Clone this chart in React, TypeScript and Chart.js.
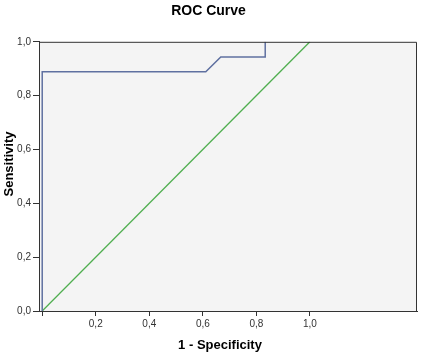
import React, { useEffect, useRef } from "react";
import { Chart, registerables } from "chart.js";

Chart.register(...registerables);

const fpr = [0, 0, 0.611, 0.667, 0.833, 0.833];
const tpr = [0, 0.889, 0.889, 0.944, 0.944, 1.0];
const refX = [0, 1];
const refY = [0, 1];
const xTickValues = [0, 0.2, 0.4, 0.6, 0.8, 1.0];
const yTickValues = [0, 0.2, 0.4, 0.6, 0.8, 1.0];

const FONT = "'Liberation Sans', Arial, sans-serif";

const framePlugin = {
  id: "frame",
  beforeDraw(chart: any) {
    const { ctx, chartArea: a } = chart;
    ctx.save();
    ctx.fillStyle = "#f4f4f4";
    ctx.fillRect(a.left, a.top, a.right - a.left, a.bottom - a.top);
    ctx.restore();
  },
  afterDatasetsDraw(chart: any) {
    const { ctx, chartArea: a } = chart;
    ctx.save();
    ctx.strokeStyle = "#333333";
    ctx.lineWidth = 1;
    ctx.beginPath();
    ctx.moveTo(a.left, a.top + 0.5);
    ctx.lineTo(a.right - 0.5, a.top + 0.5);
    ctx.lineTo(a.right - 0.5, a.bottom);
    ctx.stroke();
    ctx.restore();
  },
  afterDraw(chart: any) {
    const { ctx } = chart;
    ctx.save();
    ctx.fillStyle = "#000";
    ctx.font = `bold 13px ${FONT}`;
    ctx.textAlign = "center";
    ctx.textBaseline = "middle";
    ctx.fillText("1 - Specificity", 220, 345);
    ctx.translate(9, 164);
    ctx.rotate(-Math.PI / 2);
    ctx.fillText("Sensitivity", 0, 0);
    ctx.restore();
  },
};

const fmt = (v: number) => v.toFixed(1).replace(".", ",");

export default function App() {
  const ref = useRef<HTMLCanvasElement | null>(null);
  useEffect(() => {
    document.body.style.margin = "0";
    const canvas = ref.current!;
    const chart = new Chart(canvas, {
      type: "scatter",
      data: {
        datasets: [
          {
            data: fpr.map((x, i) => ({ x, y: tpr[i] })),
            showLine: true,
            borderColor: "#5f70a0",
            borderWidth: 1.5,
            pointRadius: 0,
            tension: 0,
          },
          {
            data: refX.map((x, i) => ({ x, y: refY[i] })),
            showLine: true,
            borderColor: "#4fae4f",
            borderWidth: 1.3,
            pointRadius: 0,
            tension: 0,
          },
        ],
      },
      options: {
        responsive: false,
        animation: false,
        layout: { padding: { right: 6, top: 0, left: 0, bottom: 0 } },
        plugins: {
          legend: { display: false },
          tooltip: { enabled: false },
          title: {
            display: true,
            text: "ROC Curve",
            color: "#000",
            font: { family: FONT, size: 14, weight: "bold" },
            padding: { top: 3, bottom: 22 },
          },
        },
        scales: {
          x: {
            type: "linear",
            min: -0.012,
            max: 1.4,
            afterBuildTicks: (s: any) => {
              s.ticks = xTickValues.map((v) => ({ value: v }));
            },
            afterFit: (s: any) => {
              s.height = 48;
            },
            grid: {
              display: true,
              drawOnChartArea: false,
              drawTicks: true,
              tickLength: 5,
              color: "#333333",
            },
            border: { display: true, color: "#333333", width: 1 },
            ticks: {
              padding: 2,
              color: "#333",
              font: { family: FONT, size: 10 },
              maxRotation: 0,
              autoSkip: false,
              callback: (v: any) => (Number(v) === 0 ? "" : fmt(Number(v))),
            },
          },
          y: {
            type: "linear",
            min: 0,
            max: 1,
            afterBuildTicks: (s: any) => {
              s.ticks = yTickValues.map((v) => ({ value: v }));
            },
            afterFit: (s: any) => {
              s.width = 39;
            },
            grid: {
              display: true,
              drawOnChartArea: false,
              drawTicks: true,
              tickLength: 6,
              color: "#333333",
            },
            border: { display: true, color: "#333333", width: 1 },
            ticks: {
              padding: 2,
              color: "#333",
              font: { family: FONT, size: 10 },
              autoSkip: false,
              callback: (v: any) => fmt(Number(v)),
            },
          },
        },
      },
      plugins: [framePlugin],
    });
    return () => chart.destroy();
  }, []);
  return (
    <div style={{ width: 423, height: 359, background: "#fff" }}>
      <canvas ref={ref} width={423} height={359} />
    </div>
  );
}
